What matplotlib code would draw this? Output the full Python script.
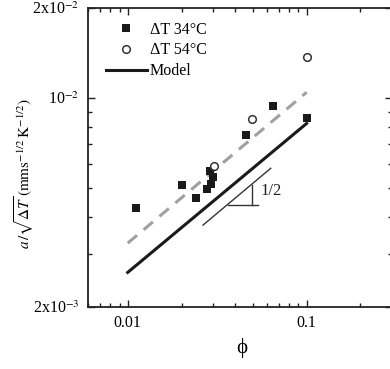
import matplotlib
matplotlib.use("Agg")
import matplotlib.pyplot as plt
import numpy as np
from matplotlib.ticker import FixedLocator, FixedFormatter, NullFormatter

plt.rcParams['font.family'] = ['Liberation Serif', 'DejaVu Serif']
plt.rcParams['mathtext.fontset'] = 'stix'

# Data: ΔT 34°C (filled squares)
phi_34 = [0.0111, 0.0201, 0.0240, 0.0277, 0.0287, 0.0294, 0.0300, 0.0461, 0.0649, 0.100]
a_34 = [0.00429, 0.00513, 0.00462, 0.00496, 0.00568, 0.00515, 0.00546, 0.00751, 0.00940, 0.00855]

# Data: ΔT 54°C (open circles)
phi_54 = [0.0302, 0.0497, 0.100]
a_54 = [0.00593, 0.00851, 0.01368]

# Model lines (slope 1/2)
phi_model = [0.01, 0.1]
a_model = [0.00261, 0.00822]
a_model_dashed = [0.00327, 0.01045]

# Slope triangle guide
phi_guide = [0.02636, 0.0630]
a_guide = [0.003758, 0.00582]
tri_phi = [0.0363, 0.0535]
tri_a_base = 0.004385
tri_vert_phi = 0.0497
tri_a_top = 0.00512

xticks_major = [0.01, 0.1]
xtick_labels = ['0.01', '0.1']
yticks_major = [2e-3, 1e-2, 2e-2]
ytick_labels = [r'2x10$^{-3}$', r'10$^{-2}$', r'2x10$^{-2}$']

W, H = 390, 369
fig = plt.figure(figsize=(W/100, H/100), dpi=100)
ax = fig.add_axes([88/W, (H-307)/H, 304/W, 299/H])
ax.set_xscale('log')
ax.set_yscale('log')
ax.set_xlim(0.006, 0.3)
ax.set_ylim(2e-3, 2e-2)

ax.plot(phi_model, a_model_dashed, color='#a0a0a0', lw=2.2, dashes=(4.0, 2.8), zorder=2)
ax.plot(phi_model, a_model, color='#1a1a1a', lw=2.2, label='Model', zorder=3)
ax.plot(phi_34, a_34, 's', color='#1a1a1a', ms=6, mew=0, label='ΔT 34°C', zorder=4)
ax.plot(phi_54, a_54, 'o', mfc='white', mec='#333333', ms=5.5, mew=1.1, label='ΔT 54°C', zorder=4)

# slope guide
ax.plot(phi_guide, a_guide, color='#333333', lw=1.0)
ax.plot(tri_phi, [tri_a_base, tri_a_base], color='#333333', lw=1.0)
ax.plot([tri_vert_phi, tri_vert_phi], [tri_a_base, tri_a_top], color='#333333', lw=1.0)
ax.text(0.0551, 0.00487, '1/2', fontsize=12, va='center', ha='left', color='#222222')

for s in ax.spines.values():
    s.set_linewidth(1.3)
    s.set_color('#222222')

ax.xaxis.set_major_locator(FixedLocator(xticks_major))
ax.xaxis.set_major_formatter(FixedFormatter(xtick_labels))
ax.xaxis.set_minor_locator(FixedLocator([0.006, 0.007, 0.008, 0.009] + [i*0.01 for i in range(2, 10)] + [0.2, 0.3]))
ax.xaxis.set_minor_formatter(NullFormatter())
ax.yaxis.set_major_locator(FixedLocator(yticks_major))
ax.yaxis.set_major_formatter(FixedFormatter(ytick_labels))
ax.yaxis.set_minor_locator(FixedLocator([i*1e-3 for i in range(3, 10)]))
ax.yaxis.set_minor_formatter(NullFormatter())
ax.tick_params(which='both', direction='in', top=True, right=True, color='#222222', labelsize=11.5, width=1.0)
ax.tick_params(which='major', length=5, pad=6)
ax.tick_params(which='minor', length=3)

hs, ls = ax.get_legend_handles_labels()
order = [1, 2, 0]
leg = ax.legend([hs[i] for i in order], [ls[i] for i in order], loc='upper left',
                bbox_to_anchor=(8/304, 1-4/299),
                frameon=False, fontsize=11.5, handlelength=2.6, handletextpad=0.15,
                labelspacing=0.3, borderaxespad=0.3, borderpad=0.3, numpoints=1)

fig.text(24/W, 1-174/H, r'$a\,/\sqrt{\Delta T}\,(\mathrm{mm s}^{-1/2}\,\mathrm{K}^{-1/2})$',
         rotation=90, ha='center', va='center', fontsize=11)
fig.text(242/W, 1-348/H, 'ϕ', ha='center', va='center', fontsize=15)

fig.savefig('out.png', dpi=100)
